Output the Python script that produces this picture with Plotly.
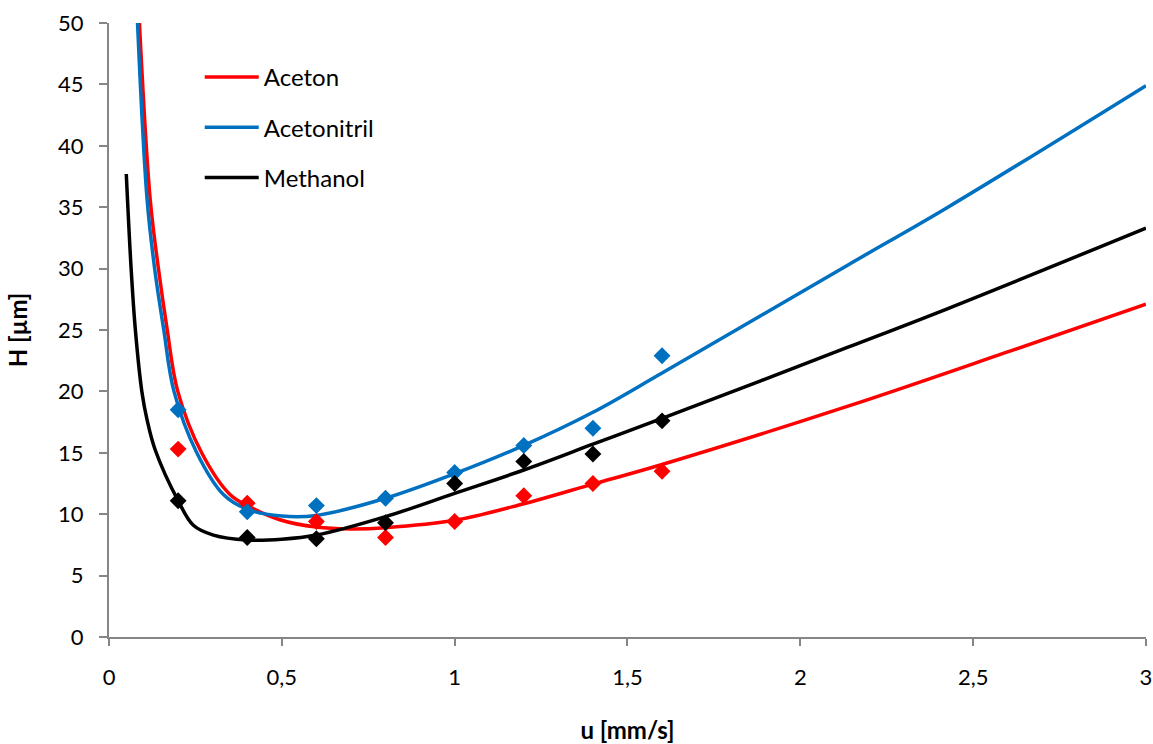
import plotly.graph_objects as go

# ---- measured data points (diamonds) ----
u_points = [0.2, 0.4, 0.6, 0.8, 1.0, 1.2, 1.4, 1.6]
aceton_pts = [15.3, 10.9, 9.4, 8.1, 9.4, 11.5, 12.5, 13.5]
acetonitril_pts = [18.5, 10.2, 10.7, 11.3, 13.4, 15.6, 17.0, 22.9]
methanol_pts = [11.1, 8.1, 8.0, 9.3, 12.5, 14.3, 14.9, 17.6]

# ---- fitted curves ----
aceton_u = [0.088, 0.119, 0.143, 0.168, 0.199, 0.268, 0.35, 0.4, 0.494, 0.6, 0.7, 0.8,
            1.0, 1.2, 1.4, 1.6, 2.138, 2.619, 3.0]
aceton_h = [50.0, 35.7, 30.0, 25.1, 20.0, 15.0, 11.6, 10.7, 9.55, 8.95, 8.8, 8.9,
            9.5, 10.85, 12.45, 14.05, 18.8, 23.4, 27.1]

acetonitril_u = [0.0825, 0.11, 0.132, 0.158, 0.188, 0.254, 0.331, 0.4, 0.5, 0.6, 0.8,
                 1.0, 1.2, 1.4, 1.6, 2.138, 2.427, 3.0]
acetonitril_h = [50.0, 35.7, 30.0, 25.1, 20.0, 15.0, 11.6, 10.4, 9.85, 9.9, 11.3,
                 13.3, 15.6, 18.3, 21.5, 30.3, 35.0, 44.9]

methanol_u = [0.050, 0.064, 0.076, 0.095, 0.11, 0.1335, 0.2, 0.244,
              0.302, 0.4, 0.5, 0.6, 0.8, 1.0, 1.2, 1.4, 1.6, 2.138, 2.427, 3.0]
methanol_h = [37.7, 30.0, 25.1, 20.0, 17.7, 15.25, 11.1, 9.1,
              8.3, 7.9, 7.96, 8.3, 9.8, 11.7, 13.6, 15.7, 17.8, 23.6, 26.75, 33.3]

x_tickvals = [0, 0.5, 1, 1.5, 2, 2.5, 3]
x_ticktext = ["0", "0,5", "1", "1,5", "2", "2,5", "3"]
y_tickvals = [0, 5, 10, 15, 20, 25, 30, 35, 40, 45, 50]

names = ["Aceton", "Acetonitril", "Methanol"]
colors = ["#FF0000", "#0070C0", "#000000"]

FONT = "Lato, 'Open Sans', sans-serif"

fig = go.Figure()
curves = [(aceton_u, aceton_h), (acetonitril_u, acetonitril_h), (methanol_u, methanol_h)]
for i, (cu, ch) in enumerate(curves):
    fig.add_trace(go.Scatter(
        x=cu, y=ch, mode="lines", name=names[i], legendgroup=names[i],
        line=dict(color=colors[i], width=3.5, shape="spline", smoothing=1.0),
    ))
pts = [aceton_pts, acetonitril_pts, methanol_pts]
for i, p in enumerate(pts):
    fig.add_trace(go.Scatter(
        x=u_points, y=p, mode="markers", showlegend=False, name=names[i],
        marker=dict(symbol="diamond", size=13, color=colors[i]),
    ))

axis_color = "#868686"
fig.update_layout(
    width=1153, height=744,
    margin=dict(l=109, r=7, t=23, b=107),
    paper_bgcolor="white", plot_bgcolor="white",
    font=dict(family=FONT, size=22, color="#000000"),
    showlegend=True,
    legend=dict(
        x=0.0875, y=0.948, xanchor="left", yanchor="top",
        font=dict(family=FONT, size=24, color="#000000"),
        bgcolor="rgba(0,0,0,0)", tracegroupgap=16, itemwidth=54,
        traceorder="grouped",
    ),
    xaxis=dict(
        range=[0, 3.0001], tickvals=x_tickvals, ticktext=x_ticktext,
        showgrid=False, zeroline=False, showline=True, linecolor=axis_color,
        linewidth=2, ticks="outside", ticklen=7, tickwidth=2, tickcolor=axis_color,
        tickfont=dict(size=22), ticklabelstandoff=13, ticklabeloverflow="allow",
        automargin=False,
        title=dict(text="<b>u [mm/s]</b>", font=dict(size=24), standoff=34),
    ),
    yaxis=dict(
        range=[0, 50], tickvals=y_tickvals,
        showgrid=False, zeroline=False, showline=True, linecolor=axis_color,
        linewidth=2, ticks="outside", ticklen=8, tickwidth=2, tickcolor=axis_color,
        tickfont=dict(size=22), ticklabelstandoff=11, automargin=False,
        title=dict(text="<b>H [µm]</b>", font=dict(size=24), standoff=24),
    ),
)

fig.write_html("out.html")
